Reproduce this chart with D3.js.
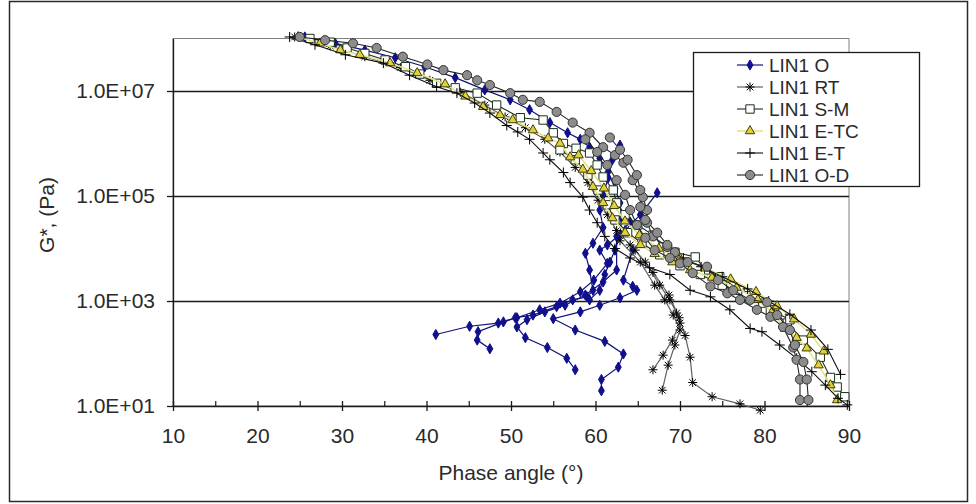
<!DOCTYPE html>
<html>
<head>
<meta charset="utf-8">
<script src="https://cdn.jsdelivr.net/npm/d3@7"></script>
<style>
body { margin: 0; background: #fff; }
svg { display: block; }
text { font-family: "Liberation Sans", Arial, sans-serif; fill: #2a2a2a; }
</style>
</head>
<body>
<svg id="chart" width="976" height="504"></svg>
<script>
// ---- data (phase angle in degrees, G* in Pa), one array per isotherm segment ----
var xTicks = [10, 20, 30, 40, 50, 60, 70, 80, 90];
var xMinorTicks = [15, 25, 35, 45, 55, 65, 75, 85];
var yTicks = [1e1, 1e3, 1e5, 1e7];
var yTickLabels = ["1.0E+01", "1.0E+03", "1.0E+05", "1.0E+07"];
var seriesNames = ["LIN1 O", "LIN1 RT", "LIN1 S-M", "LIN1 E-TC", "LIN1 E-T", "LIN1 O-D"];

var linO = [
  [[25.6,1.07e8],[29.2,8.1e7],[32.7,6.0e7],[36.3,4.3e7],[39.8,2.9e7],[43.4,1.8e7],[46.9,1.05e7],[49.9,6.8e6],[52.2,4.4e6],[54.6,2.5e6],[56.7,1.6e6],[58.2,1.2e6],[59.3,8.5e5],[60.5,5.2e5],[61.5,2.9e5],[62.3,1.4e5],[62.9,7.4e4],[63.1,3.8e4],[62.9,1.8e4],[62.3,9.3e3],[61.7,5.5e3],[61.1,3.2e3],[60.5,1.6e3],[59.3,1.05e3]],
  [[62.9,9.3e5],[62.0,4.9e5],[61.5,2.2e5],[60.9,1.05e5],[60.5,5.4e4],[60.9,2.5e4],[59.7,1.26e4],[58.8,8.1e3],[59.3,3.9e3],[59.7,1.6e3],[59.0,1.2e3],[57.3,1.05e3],[55.4,780],[52.6,540],[50.5,480],[48.5,380],[45.1,330],[41.1,230]],
  [[67.3,1.15e5],[65.3,4.4e4],[63.5,2.2e4],[61.4,1.17e4],[60.5,9.3e3],[61.4,5.2e3],[59.8,2.5e3],[58.2,1.5e3],[55.8,910],[53.4,680],[50.7,480],[49.1,400],[46.1,260],[46.0,180],[47.5,123]],
  [[64.1,3.2e4],[62.5,1.7e4],[62.5,3.9e3],[60.9,2.3e3],[58.8,1.3e3],[56.4,830],[54.0,620],[51.9,440],[50.7,320],[51.7,200],[54.3,130],[56.6,81],[57.6,49]],
  [[64.4,9.3e3],[63.3,2.5e3],[64.4,1.9e3],[64.9,1.6e3],[62.9,1.15e3],[60.5,830],[58.2,620],[55.0,460],[57.6,280],[61.1,170],[63.3,98],[62.7,55],[60.7,32],[60.7,19.5]]
];

var linRT = [
  [[24.4,1.07e8],[28.6,7.2e7],[32.7,4.5e7],[36.9,2.8e7],[40.4,1.6e7],[44.0,9.5e6],[46.9,5.4e6],[49.3,3.2e6],[51.7,2.0e6],[54.0,1.2e6],[55.8,6.9e5],[57.6,3.5e5],[59.1,1.8e5],[60.3,8.3e4],[61.4,4.4e4],[62.5,2.2e4],[64.1,1.17e4],[65.9,5.5e3],[67.6,2.0e3],[68.8,1.05e3],[69.6,590],[70.0,380],[69.1,180],[68.0,93],[66.8,49]],
  [[62.9,1.4e4],[65.3,5.5e3],[67.0,2.0e3],[68.2,1.05e3],[69.2,540],[70.0,280],[69.4,145],[68.6,60],[67.9,20]],
  [[64.7,9.3e3],[66.8,3.5e3],[68.7,1.3e3],[69.9,480],[70.6,220],[71.2,85],[71.5,28],[73.8,15],[77.1,11],[79.5,8.3]]
];

var linSM = [
  [[26.2,1.0e8],[28.6,8.5e7],[30.6,6.6e7],[32.7,5.2e7],[35.1,3.9e7],[37.5,2.9e7],[39.2,2.1e7],[41.2,1.4e7],[43.4,1.15e7],[46.0,9.1e6],[48.3,5.4e6],[51.1,3.1e6],[53.8,2.8e6],[55.0,1.6e6],[56.2,1.0e6],[57.7,8.1e5],[59.3,6.6e5],[60.2,3.9e5],[60.9,2.3e5],[62.1,1.3e5],[62.5,7.4e4],[63.5,4.4e4],[65.0,2.8e4],[66.8,1.8e4],[68.0,1.07e4],[69.4,8.5e3],[71.8,6.9e3],[73.0,3.9e3],[74.7,2.9e3],[77.1,1.6e3],[79.8,910],[81.2,590],[82.7,380],[84.6,180],[86.6,85],[87.8,35],[88.6,23],[89.5,15]],
  [[55.8,7.6e5],[57.6,4.9e5],[59.1,2.5e5],[60.3,1.3e5],[61.4,6.8e4],[62.3,3.5e4],[63.8,2.0e4],[65.5,1.26e4],[67.6,7.6e3],[70.0,4.7e3],[72.4,3.2e3],[75.0,2.0e3],[77.8,1.26e3],[80.7,680],[83.0,440]]
];

var linETC = [
  [[24.8,1.07e8],[27.4,8.1e7],[29.8,6.0e7],[32.1,4.9e7],[35.7,3.4e7],[38.9,2.2e7],[42.2,1.35e7],[44.6,7.9e6],[46.7,5.0e6],[48.7,3.5e6],[50.2,2.8e6],[52.6,1.8e6],[54.4,1.26e6],[55.8,1.0e6],[57.0,5.5e5],[58.5,3.2e5],[59.7,1.5e5],[60.9,7.4e4],[62.0,3.8e4],[63.5,2.0e4],[65.3,1.17e4],[67.0,7.9e3],[69.1,5.5e3],[71.2,3.9e3],[73.8,2.8e3],[76.7,1.8e3],[79.2,1.05e3],[80.9,620],[82.4,300],[83.8,200],[85.0,126],[86.4,60],[87.8,25],[88.6,13]],
  [[58.0,6.0e5],[59.5,3.0e5],[61.0,1.4e5],[62.2,6.5e4],[63.5,3.3e4],[65.2,1.8e4],[67.5,1.0e4],[70.0,6.5e3],[73.0,4.2e3],[76.0,2.6e3],[79.0,1.5e3],[81.5,800],[83.5,450],[85.5,230],[87.0,110]]
];

var linET = [
  [[23.8,1.07e8],[26.8,7.6e7],[30.4,4.9e7],[34.9,3.4e7],[38.0,2.0e7],[41.2,1.2e7],[43.6,9.1e6],[45.7,5.9e6],[47.5,3.8e6],[49.5,2.2e6],[50.8,1.66e6],[52.2,1.2e6],[53.8,6.6e5],[54.6,4.9e5],[56.2,2.8e5],[57.0,1.8e5],[58.5,9.5e4],[59.3,5.4e4],[60.2,3.1e4],[61.1,1.7e4],[62.3,1.0e4],[64.1,6.6e3],[66.4,4.3e3],[68.8,3.2e3],[71.2,1.6e3],[73.6,1.2e3],[75.9,680],[78.3,300],[79.7,260],[81.8,145],[83.8,81],[85.6,45],[87.2,25],[88.7,14],[89.8,10.5]],
  [[70.4,6.6e3],[72.5,4.5e3],[75.0,2.9e3],[78.0,1.7e3],[80.5,1.0e3],[83.0,560],[85.5,280],[87.5,120],[89.0,40]]
];

var linOD = [
  [[25.0,1.07e8],[28.0,9.3e7],[31.3,8.1e7],[34.1,6.6e7],[37.2,4.5e7],[40.1,3.2e7],[42.0,2.5e7],[44.8,2.0e7],[46.0,1.6e7],[47.5,1.3e7],[49.9,9.1e6],[51.4,6.8e6],[53.4,6.2e6],[55.4,4.0e6],[57.3,2.5e6],[59.3,1.6e6],[60.9,8.5e5],[62.3,6.0e5],[63.3,4.3e5],[64.4,2.0e5],[65.6,9.5e4],[66.1,5.4e4],[66.1,3.1e4],[66.8,1.7e4],[68.5,1.07e4],[70.0,5.2e3],[71.5,3.4e3],[73.6,1.9e3],[75.6,1.4e3],[77.1,1.05e3],[79.1,680],[80.7,500],[82.2,320],[83.4,130],[83.8,76],[84.2,32],[84.2,13]],
  [[61.7,1.3e6],[62.9,7.6e5],[63.8,4.9e5],[64.9,2.5e5],[65.3,1.3e5],[65.3,6.2e4],[65.9,3.5e4],[67.3,2.0e4],[68.5,1.17e4],[69.4,8.5e3],[70.9,5.5e3],[73.2,4.5e3],[74.5,2.5e3],[76.3,1.6e3],[78.3,1.05e3],[80.3,950],[81.5,540],[83.0,280],[83.6,145],[84.6,69],[85.0,32],[85.2,13]],
  [[58.8,1.2e6],[60.2,6.9e5],[61.4,3.9e5],[62.5,2.0e5],[63.5,1.05e5],[64.1,5.4e4],[64.9,2.8e4],[65.9,1.6e4],[67.0,9.3e3],[68.8,6.6e3]]
];

// ---- layout ----
var svg = d3.select("#chart");
var plot = {left: 173, right: 849, top: 38.5, bottom: 406};
var fontSize = 21;

var x = d3.scaleLinear().domain([10, 90]).range([plot.left, plot.right]);
var y = d3.scaleLog().domain([10, 1e8]).range([plot.bottom, plot.top]);

// outer chart frame
svg.append("rect")
    .attr("x", 9.5).attr("y", 1.5)
    .attr("width", 958).attr("height", 500)
    .attr("fill", "#fff")
    .attr("stroke", "#2a2a2a")
    .attr("stroke-width", 1.5);

// plot area border (grey, Excel style)
svg.append("rect")
    .attr("x", plot.left).attr("y", plot.top)
    .attr("width", plot.right - plot.left).attr("height", plot.bottom - plot.top)
    .attr("fill", "none")
    .attr("stroke", "#808080")
    .attr("stroke-width", 1);

// horizontal gridlines
svg.append("g")
    .selectAll("line")
    .data(yTicks.slice(1))
    .enter()
    .append("line")
    .attr("x1", plot.left).attr("x2", plot.right)
    .attr("y1", function (d) { return Math.round(y(d)) + 0.5; })
    .attr("y2", function (d) { return Math.round(y(d)) + 0.5; })
    .attr("stroke", "#1a1a1a")
    .attr("stroke-width", 1.3);

// x axis, major ticks crossing the line
var xAxis = svg.append("g")
    .attr("transform", "translate(0," + plot.bottom + ")")
    .call(d3.axisBottom(x).tickValues(xTicks).tickSizeInner(5).tickSizeOuter(0).tickPadding(17));
xAxis.selectAll(".tick line").attr("y1", -5).attr("y2", 5).attr("stroke", "#1a1a1a").attr("stroke-width", 1.3);
xAxis.select(".domain").attr("stroke", "#1a1a1a").attr("stroke-width", 1.3);
xAxis.selectAll("text").attr("font-size", fontSize).attr("fill", "#2a2a2a");

// x minor ticks
svg.append("g")
    .attr("transform", "translate(0," + plot.bottom + ")")
    .call(d3.axisBottom(x).tickValues(xMinorTicks).tickSizeInner(-5).tickSizeOuter(0).tickFormat(""))
    .call(function (g) { g.select(".domain").remove(); })
    .selectAll("line").attr("stroke", "#1a1a1a").attr("stroke-width", 1.2);

// y axis
var yAxis = svg.append("g")
    .attr("transform", "translate(" + plot.left + ",0)")
    .call(d3.axisLeft(y).tickValues(yTicks)
        .tickFormat(function (d, i) { return yTickLabels[i]; })
        .tickSizeInner(6).tickSizeOuter(0).tickPadding(12));
yAxis.select(".domain").attr("stroke", "#1a1a1a").attr("stroke-width", 1.3);
yAxis.selectAll(".tick line").attr("stroke", "#1a1a1a").attr("stroke-width", 1.3);
yAxis.selectAll("text").attr("font-size", fontSize).attr("fill", "#2a2a2a");

// axis titles
svg.append("text")
    .attr("x", 511).attr("y", 480)
    .attr("text-anchor", "middle")
    .attr("font-size", fontSize)
    .text("Phase angle (\u00b0)");

svg.append("text")
    .attr("transform", "translate(54,215) rotate(-90)")
    .attr("text-anchor", "middle")
    .attr("font-size", fontSize)
    .text("G*, (Pa)");

// ---- marker shapes ----
function markerPath(kind) {
    if (kind == "diamond") return d3.symbol().type(d3.symbolDiamond).size(30)();
    if (kind == "square") return d3.symbol().type(d3.symbolSquare).size(70)();
    if (kind == "triangle") return d3.symbol().type(d3.symbolTriangle).size(38)();
    if (kind == "circle") return d3.symbol().type(d3.symbolCircle).size(66)();
    if (kind == "plus") return "M-5,0H5M0,-5V5";
    if (kind == "star") return "M-4.5,0H4.5M0,-4.5V4.5M-3.3,-3.3L3.3,3.3M-3.3,3.3L3.3,-3.3";
    return "";
}

var series = [
    {name: seriesNames[0], data: linO,   line: "#10107a", marker: "diamond",  fill: "#10108c", stroke: "#10108c", lw: 1.2},
    {name: seriesNames[1], data: linRT,  line: "#606060", marker: "star",     fill: "none",    stroke: "#000",    lw: 1.2},
    {name: seriesNames[2], data: linSM,  line: "#1c2a1c", marker: "square",   fill: "#fff",    stroke: "#183018", lw: 1.1},
    {name: seriesNames[3], data: linETC, line: "#e4e488", marker: "triangle", fill: "#e0d040", stroke: "#404000", lw: 1.6},
    {name: seriesNames[4], data: linET,  line: "#111",    marker: "plus",     fill: "none",    stroke: "#000",    lw: 1.1},
    {name: seriesNames[5], data: linOD,  line: "#222",    marker: "circle",   fill: "#8c8c8c", stroke: "#333",    lw: 1.1}
];

var line = d3.line()
    .x(function (d) { return x(d[0]); })
    .y(function (d) { return y(d[1]); });

var marks = svg.append("g").attr("class", "series");

series.forEach(function (s) {
    var g = marks.append("g");
    g.selectAll("path.line")
        .data(s.data)
        .enter()
        .append("path")
        .attr("class", "line")
        .attr("d", line)
        .attr("fill", "none")
        .attr("stroke", s.line)
        .attr("stroke-width", s.lw);

    var pts = [];
    s.data.forEach(function (seg) { pts = pts.concat(seg); });
    g.selectAll("path.mk")
        .data(pts)
        .enter()
        .append("path")
        .attr("class", "mk")
        .attr("transform", function (d) { return "translate(" + x(d[0]) + "," + y(d[1]) + ")"; })
        .attr("d", markerPath(s.marker))
        .attr("fill", s.fill)
        .attr("stroke", s.stroke)
        .attr("stroke-width", 1);
});

// ---- legend ----
var legend = svg.append("g");
legend.append("rect")
    .attr("x", 693.5).attr("y", 52.5)
    .attr("width", 226).attr("height", 134)
    .attr("fill", "#fff")
    .attr("stroke", "#1a1a1a")
    .attr("stroke-width", 1.3);

var item = legend.selectAll("g.item")
    .data(series)
    .enter()
    .append("g")
    .attr("class", "item")
    .attr("transform", function (d, i) { return "translate(0," + (65 + i * 22) + ")"; });

item.append("line")
    .attr("x1", 737).attr("x2", 763)
    .attr("stroke", function (d) { return d.line; })
    .attr("stroke-width", function (d) { return d.lw; });
item.append("path")
    .attr("transform", "translate(750,0)")
    .attr("d", function (d) { return markerPath(d.marker); })
    .attr("fill", function (d) { return d.fill; })
    .attr("stroke", function (d) { return d.stroke; })
    .attr("stroke-width", 1);
item.append("text")
    .attr("x", 769)
    .attr("dy", "0.36em")
    .attr("font-size", 19)
    .text(function (d) { return d.name; });
</script>
</body>
</html>
